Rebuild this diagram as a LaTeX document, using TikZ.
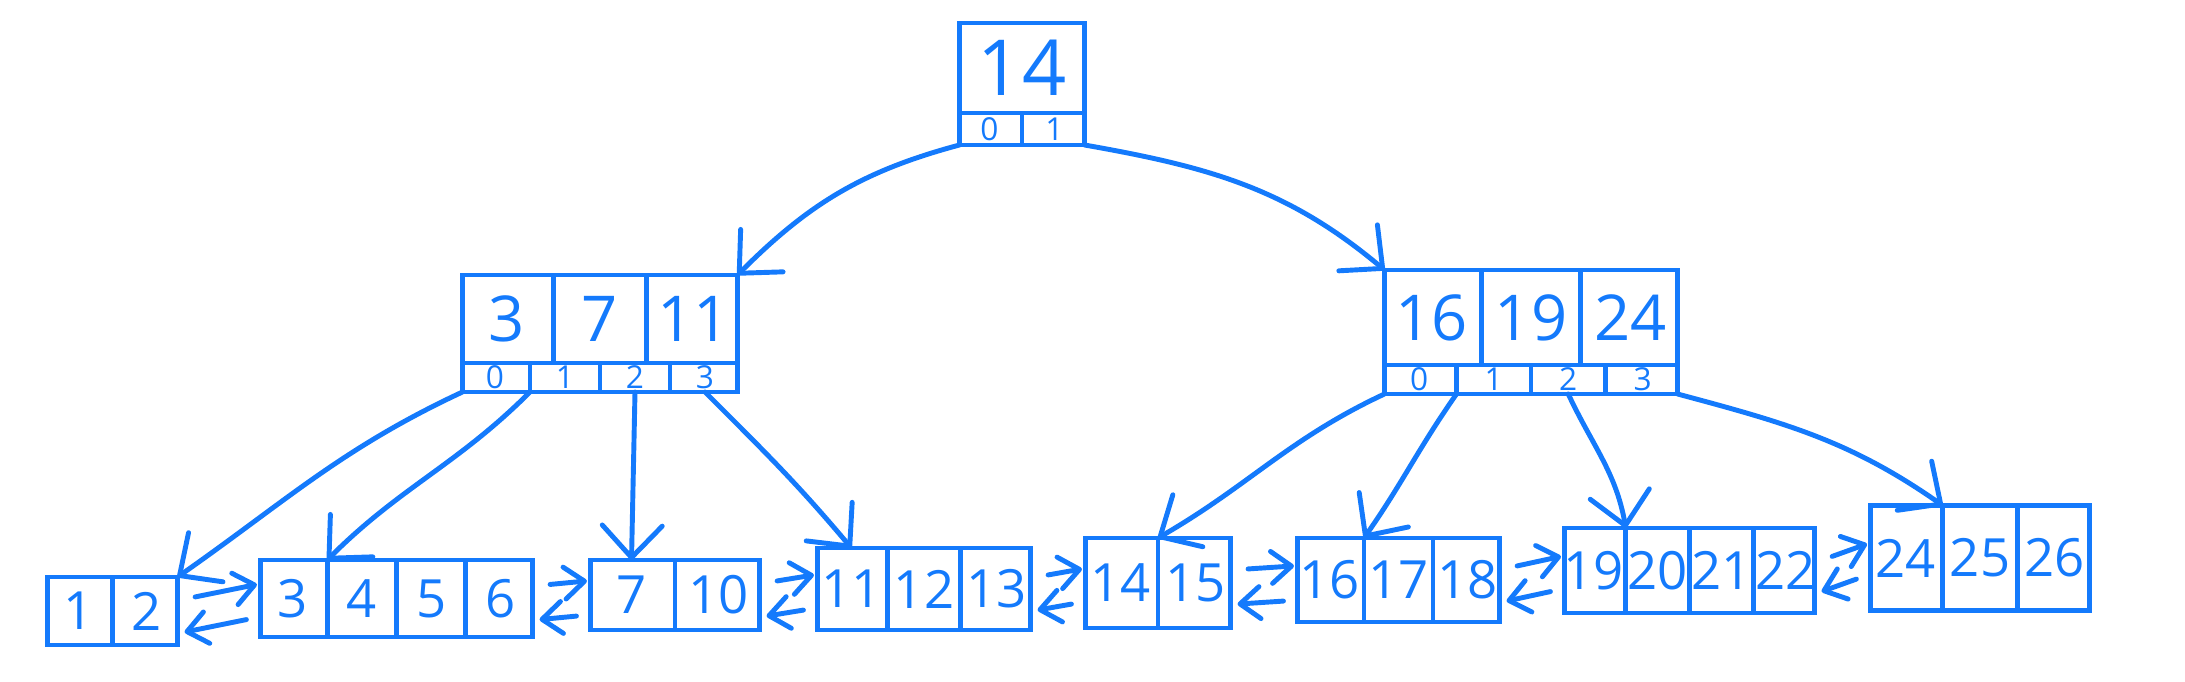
\documentclass[tikz,border=0pt]{standalone}
\usepackage{fontspec}
\setmainfont{Open Sans}
\usepackage{tikz}
\usetikzlibrary{positioning, shapes.multipart, arrows.meta}
\definecolor{ink}{RGB}{20,122,252}
\newcommand{\kc}[2]{\makebox[\dimexpr#1cm-1.4pt\relax]{#2}}
\tikzstyle{Arrow} = [
line width=1.4pt, line cap=round,
-{Straight Barb[length=3.2mm,width=6mm,round]}]
\tikzstyle{Link} = [
line width=1.4pt, line cap=round,
-{Straight Barb[length=2mm,width=3.2mm,round]}]
\tikzstyle{box} = [draw=ink, text=ink, line width=1.4pt, inner xsep=0pt, inner ysep=0pt,
outer sep=0pt, rectangle split, rectangle split horizontal]
\tikzstyle{key} = [box, font=\fontsize{18}{18}\selectfont]
\tikzstyle{ptr} = [box, font=\fontsize{9}{9}\selectfont]
\tikzstyle{leaf} = [box, font=\fontsize{15}{15}\selectfont]

\begin{document}
\begin{tikzpicture}[color=ink]
    \useasboundingbox (0,0) rectangle (21.85,6.81);
    % inner nodes
    \node[key, rectangle split parts=1, minimum height=0.9cm,
          font=\fontsize{22}{22}\selectfont] (root) at (10.22,6.13) {\kc{1.3}{14}};
    \node[ptr, rectangle split parts=2, minimum height=0.32cm, below=0pt of root] (rootptr)
        {\kc{0.65}{0}\nodepart{two}\kc{0.65}{1}};
    \node[key, rectangle split parts=3, minimum height=0.88cm] (left) at (6.00,3.62)
        {\kc{0.933}{3}\nodepart{two}\kc{0.933}{7}\nodepart{three}\kc{0.933}{11}};
    \node[ptr, rectangle split parts=4, minimum height=0.29cm, below=0pt of left] (leftptr)
        {\kc{0.7}{0}\nodepart{two}\kc{0.7}{1}\nodepart{three}\kc{0.7}{2}\nodepart{four}\kc{0.7}{3}};
    \node[key, rectangle split parts=3, minimum height=0.95cm] (right) at (15.31,3.635)
        {\kc{0.993}{16}\nodepart{two}\kc{0.993}{19}\nodepart{three}\kc{0.993}{24}};
    \node[ptr, rectangle split parts=4, minimum height=0.29cm, below=0pt of right] (rightptr)
        {\kc{0.745}{0}\nodepart{two}\kc{0.745}{1}\nodepart{three}\kc{0.745}{2}\nodepart{four}\kc{0.745}{3}};
    % leaves
    \node[leaf, rectangle split parts=2, minimum height=0.68cm] (leaf1) at (1.125,0.70)
        {\kc{0.675}{1}\nodepart{two}\kc{0.675}{2}};
    \node[leaf, rectangle split parts=4, minimum height=0.77cm] (leaf2) at (3.965,0.825)
        {\kc{0.6925}{3}\nodepart{two}\kc{0.6925}{4}\nodepart{three}\kc{0.6925}{5}\nodepart{four}\kc{0.6925}{6}};
    \node[leaf, rectangle split parts=2, minimum height=0.70cm] (leaf3) at (6.75,0.86)
        {\kc{0.87}{7}\nodepart{two}\kc{0.87}{10}};
    \node[leaf, rectangle split parts=3, minimum height=0.82cm] (leaf4) at (9.24,0.92)
        {\kc{0.7267}{11}\nodepart{two}\kc{0.7267}{12}\nodepart{three}\kc{0.7267}{13}};
    \node[leaf, rectangle split parts=2, minimum height=0.90cm] (leaf5) at (11.58,0.98)
        {\kc{0.75}{14}\nodepart{two}\kc{0.75}{15}};
    \node[leaf, rectangle split parts=3, minimum height=0.84cm] (leaf6) at (13.985,1.01)
        {\kc{0.69}{16}\nodepart{two}\kc{0.69}{17}\nodepart{three}\kc{0.69}{18}};
    \node[leaf, rectangle split parts=4, minimum height=0.85cm] (leaf7) at (16.895,1.105)
        {\kc{0.6375}{19}\nodepart{two}\kc{0.6375}{20}\nodepart{three}\kc{0.6375}{21}\nodepart{four}\kc{0.6375}{22}};
    \node[leaf, rectangle split parts=3, minimum height=1.05cm] (leaf8) at (19.80,1.23)
        {\kc{0.7467}{24}\nodepart{two}\kc{0.7467}{25}\nodepart{three}\kc{0.7467}{26}};
    % tree pointers
    \draw[Arrow] (rootptr.south west) to[out=195,in=45] (left.north east);
    \draw[Arrow] (rootptr.south east) to[out=-10,in=140] (right.north west);
    \draw[Arrow] (leftptr.south west) to[out=205,in=35] (leaf1.north east);
    \draw[Arrow] (leftptr.one split south) to[out=225,in=45] (leaf2.one split north);
    \draw[Arrow] (leftptr.three south) -- (leaf3.one north);
    \draw[Arrow] (leftptr.four south) to[out=-45,in=130] (leaf4.one north);
    \draw[Arrow] (rightptr.south west) to[out=205,in=30] (leaf5.one split north);
    \draw[Arrow] (rightptr.one split south) to[out=235,in=55] (leaf6.one split north);
    \draw[Arrow] (rightptr.three south) to[out=-65,in=100] (leaf7.one split north);
    \draw[Arrow] (rightptr.south east) to[out=-15,in=145] (leaf8.one split north);
    % sibling links
    \draw[Link] ([xshift=5pt,yshift=4pt]leaf1.east) -- ([xshift=-1pt,yshift=4pt]leaf2.west);
    \draw[Link] ([xshift=-4pt,yshift=-6pt]leaf2.west) -- ([xshift=2pt,yshift=-6pt]leaf1.east);
    \draw[Link] ([xshift=5pt,yshift=4pt]leaf2.east) -- ([xshift=-1pt,yshift=4pt]leaf3.west);
    \draw[Link] ([xshift=-4pt,yshift=-6pt]leaf3.west) -- ([xshift=2pt,yshift=-6pt]leaf2.east);
    \draw[Link] ([xshift=5pt,yshift=4pt]leaf3.east) -- ([xshift=-1pt,yshift=4pt]leaf4.west);
    \draw[Link] ([xshift=-4pt,yshift=-6pt]leaf4.west) -- ([xshift=2pt,yshift=-6pt]leaf3.east);
    \draw[Link] ([xshift=5pt,yshift=4pt]leaf4.east) -- ([xshift=-1pt,yshift=4pt]leaf5.west);
    \draw[Link] ([xshift=-4pt,yshift=-6pt]leaf5.west) -- ([xshift=2pt,yshift=-6pt]leaf4.east);
    \draw[Link] ([xshift=5pt,yshift=4pt]leaf5.east) -- ([xshift=-1pt,yshift=4pt]leaf6.west);
    \draw[Link] ([xshift=-4pt,yshift=-6pt]leaf6.west) -- ([xshift=2pt,yshift=-6pt]leaf5.east);
    \draw[Link] ([xshift=5pt,yshift=4pt]leaf6.east) -- ([xshift=-1pt,yshift=4pt]leaf7.west);
    \draw[Link] ([xshift=-4pt,yshift=-6pt]leaf7.west) -- ([xshift=2pt,yshift=-6pt]leaf6.east);
    \draw[Link] ([xshift=5pt,yshift=4pt]leaf7.east) -- ([xshift=-1pt,yshift=4pt]leaf8.west);
    \draw[Link] ([xshift=-4pt,yshift=-6pt]leaf8.west) -- ([xshift=2pt,yshift=-6pt]leaf7.east);
\end{tikzpicture}
\end{document}
